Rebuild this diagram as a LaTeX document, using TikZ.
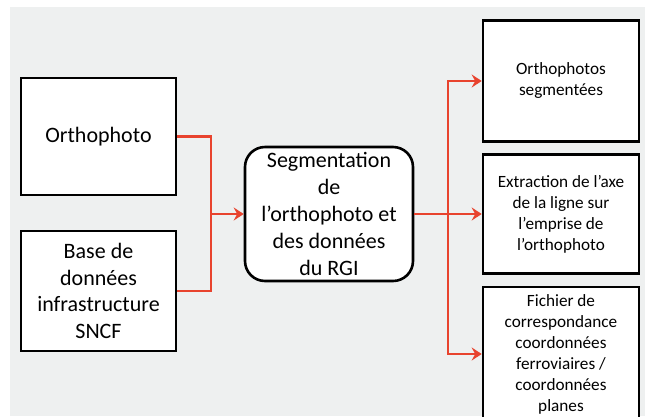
\documentclass[tikz,border=0pt]{standalone}
\usepackage{fontspec}
\setmainfont{Carlito}
\usetikzlibrary{arrows.meta,positioning}

\definecolor{flowred}{HTML}{E8432E}
\definecolor{backgray}{HTML}{EEF0F0}

\tikzset{
  box/.style={draw=black, line width=2.6pt, fill=white, align=center, inner sep=2pt},
  bigtext/.style={font=\fontsize{22}{26.8}\selectfont},
  smalltext/.style={font=\fontsize{17.2}{21}\selectfont},
  link/.style={draw=flowred, line width=2.8pt},
  arrowlink/.style={link, -{Stealth[length=10pt, width=13pt, inset=3.5pt]}}
}

\begin{document}
\begin{tikzpicture}[x=1pt, y=-1pt]
\useasboundingbox (0,0) rectangle (645,416);
\clip (0,0) rectangle (645,416);
% background
\fill[backgray] (10,7) rectangle (645,416);
% Inputs
\node[box, bigtext, minimum width=155pt, minimum height=117pt] (ortho) at (98.5,136.5) {Orthophoto};
\node[box, bigtext, minimum width=155pt, minimum height=120pt] (base) at (98.5,291) {Base de\\données\\infrastructure\\SNCF};
% Segmentation
\node[box, bigtext, rounded corners=20pt, minimum width=168pt, minimum height=134pt] (seg) at (329,214) {Segmentation\\de\\l’orthophoto et\\des données\\du RGI};
% Outputs
\node[box, smalltext, minimum width=156pt, minimum height=121pt] (out1) at (561,81) {Orthophotos\\segmentées};
\node[box, smalltext, minimum width=156pt, minimum height=119pt] (out2) at (561,214) {Extraction de l’axe\\de la ligne sur\\l’emprise de\\l’orthophoto};
\node[box, smalltext, minimum width=156pt, minimum height=134pt] (out3) at (561,354) {Fichier de\\correspondance\\coordonnées\\ferroviaires /\\coordonnées\\planes};
% Junctions
\coordinate (jl) at (211,214);
\coordinate (jr) at (448,214);
% Inputs -> segmentation
\draw[link] (ortho.east) -| (jl);
\draw[link] (base.east) -| (jl);
\draw[arrowlink] (jl) -- (seg.west);
% Segmentation -> outputs
\draw[link] (seg.east) -- (jr);
\draw[arrowlink] (jr) |- (out1.west);
\draw[arrowlink] (jr) -- (out2.west);
\draw[arrowlink] (jr) |- (out3.west);
\end{tikzpicture}
\end{document}
